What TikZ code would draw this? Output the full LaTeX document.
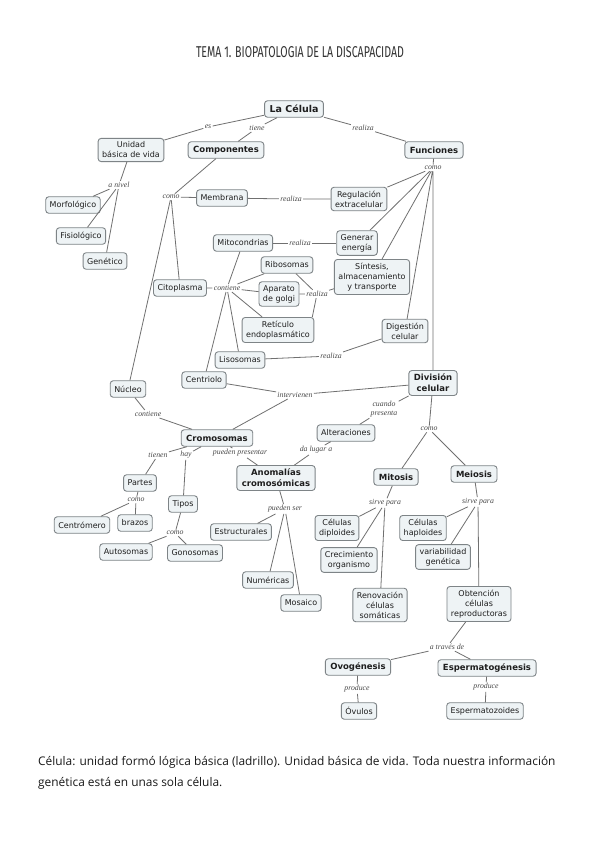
\documentclass[tikz,border=0pt]{standalone}
\usepackage{fontspec}
\usepackage{graphicx}
\newfontfamily\dejavu{DejaVu Sans}
\newfontfamily\lserif{Liberation Serif}
\newfontfamily\fira{Fira Sans}
\newfontfamily\osans{Open Sans}
\definecolor{boxfill}{HTML}{EEF3F5}
\definecolor{bordergray}{HTML}{7E8487}
\definecolor{linegray}{HTML}{707070}
\definecolor{linkgray}{HTML}{4A4A4A}
\definecolor{textdark}{HTML}{1E1E1E}
\tikzset{
  concept/.style={draw=bordergray, fill=boxfill, rounded corners=3pt, line width=0.9pt,
    align=center, inner xsep=4pt, inner ysep=3.5pt, minimum height=16.5pt,
    font=\dejavu\fontsize{8}{10}\selectfont, text=textdark},
  mainc/.style={concept, inner xsep=5pt, font=\dejavu\bfseries\fontsize{8.5}{11}\selectfont},
  lk/.style={font=\lserif\itshape\fontsize{7.8}{9.5}\selectfont, text=linkgray, inner sep=1.2pt, align=center},
  conn/.style={draw=linegray, line width=0.8pt},
}
\begin{document}
\begin{tikzpicture}[x=1pt,y=-1pt]
\useasboundingbox[fill=white] (0,0) rectangle (599,848);
% title
\node[text=black!80] (title) at (300,52) {\resizebox{208pt}{11pt}{\fira TEMA 1. BIOPATOLOGIA DE LA DISCAPACIDAD}};
% concepts
\node[mainc, font=\dejavu\bfseries\fontsize{9.5}{11}\selectfont] (cel) at (294,109) {La Célula};
\node[concept] (unid) at (131,150) {Unidad\\básica de vida};
\node[mainc] (comp) at (226,150) {Componentes};
\node[mainc] (func) at (434,150) {Funciones};
\node[concept] (morf) at (73,205) {Morfológico};
\node[concept] (fisi) at (81,236) {Fisiológico};
\node[concept] (gene) at (105,261) {Genético};
\node[concept] (memb) at (222,198) {Membrana};
\node[concept] (regu) at (359,199) {Regulación\\extracelular};
\node[concept] (mito) at (243,243) {Mitocondrias};
\node[concept] (gener) at (357,243) {Generar\\energía};
\node[concept] (ribo) at (287,265) {Ribosomas};
\node[concept] (sint) at (372,277) {Síntesis,\\almacenamiento\\y transporte};
\node[concept] (cito) at (180,288) {Citoplasma};
\node[concept] (golgi) at (279,294) {Aparato\\de golgi};
\node[concept] (reti) at (278,330) {Retículo\\endoplasmático};
\node[concept] (dige) at (405,331) {Digestión\\celular};
\node[concept] (liso) at (240,360) {Lisosomas};
\node[concept] (cent) at (204,380) {Centriolo};
\node[mainc] (divi) at (433,383) {División\\celular};
\node[concept] (nucl) at (128,389) {Núcleo};
\node[mainc] (crom) at (217,438) {Cromosomas};
\node[concept] (alte) at (346,433) {Alteraciones};
\node[mainc] (anom) at (276,478) {Anomalías\\cromosómicas};
\node[mainc] (mitos) at (396,477) {Mitosis};
\node[mainc] (meio) at (474,474) {Meiosis};
\node[concept] (part) at (140,483) {Partes};
\node[concept] (tipo) at (183,504) {Tipos};
\node[concept] (centr) at (82,525) {Centrómero};
\node[concept] (braz) at (135,523) {brazos};
\node[concept] (estr) at (241,532) {Estructurales};
\node[concept] (dipl) at (337,528) {Células\\diploides};
\node[concept] (hapl) at (423,528) {Células\\haploides};
\node[concept] (crec) at (349,560) {Crecimiento\\organismo};
\node[concept] (vari) at (443,557) {variabilidad\\genética};
\node[concept] (auto) at (126,552) {Autosomas};
\node[concept] (gono) at (195,553) {Gonosomas};
\node[concept] (nume) at (268,580) {Numéricas};
\node[concept] (mosa) at (301,603) {Mosaico};
\node[concept] (reno) at (380,605) {Renovación\\células\\somáticas};
\node[concept] (obte) at (479,604) {Obtención\\células\\reproductoras};
\node[mainc] (ovo) at (358,667) {Ovogénesis};
\node[mainc] (esp) at (487,668) {Espermatogénesis};
\node[concept] (ovu) at (359,711) {Óvulos};
\node[concept] (espz) at (485,711) {Espermatozoides};
% linking phrases
\node[lk] (l1) at (208,127) {es};
\node[lk] (l2) at (257,128) {tiene};
\node[lk] (l3) at (363,128) {realiza};
\node[lk] (l4) at (119,185) {a nivel};
\node[lk] (l5) at (171,197) {como};
\node[lk] (l6) at (291,199) {realiza};
\node[lk] (l7) at (433,168) {como};
\node[lk] (l8) at (300,243) {realiza};
\node[lk] (l9) at (227,288) {contiene};
\node[lk] (l10) at (317,294) {realiza};
\node[lk] (l11) at (331,356) {realiza};
\node[lk] (l12) at (295,395) {intervienen};
\node[lk] (l13) at (148,414) {contiene};
\node[lk] (l14) at (384,409) {cuando\\presenta};
\node[lk] (l15) at (429,429) {como};
\node[lk] (l16) at (316,450) {da lugar a};
\node[lk] (l17) at (158,455) {tienen};
\node[lk] (l18) at (186,455) {hay};
\node[lk] (l19) at (240,453) {pueden presentar};
\node[lk] (l20) at (136,500) {como};
\node[lk] (l21) at (175,533) {como};
\node[lk] (l22) at (285,509) {pueden ser};
\node[lk] (l23) at (385,503) {sirve para};
\node[lk] (l24) at (478,502) {sirve para};
\node[lk] (l25) at (447,647) {a través de};
\node[lk] (l26) at (357,689) {produce};
\node[lk] (l27) at (486,687) {produce};
% connectors
\draw[conn] (cel) -- (l1) (l1) -- (unid);
\draw[conn] (cel) -- (l2) (l2) -- (comp);
\draw[conn] (cel) -- (l3) (l3) -- (func);
\draw[conn] (unid) -- (l4) (l4) -- (morf) (l4) -- (fisi) (l4) -- (gene);
\draw[conn] (comp) -- (l5) (l5) -- (memb) (l5) -- (cito) (l5) -- (nucl);
\draw[conn] (memb) -- (l6) (l6) -- (regu);
\draw[conn] (func) -- (l7) (l7) -- (regu) (l7) -- (gener) (l7) -- (sint) (l7) -- (dige) (l7) -- (divi);
\draw[conn] (mito) -- (l8) (l8) -- (gener);
\draw[conn] (cito) -- (l9) (l9) -- (mito) (l9) -- (ribo) (l9) -- (golgi) (l9) -- (reti) (l9) -- (liso) (l9) -- (cent);
\draw[conn] (ribo) -- (l10) (golgi) -- (l10) (l10) -- ([xshift=-2pt]reti.north east) (l10) -- (sint);
\draw[conn] (liso) -- (l11) (l11) -- (dige);
\draw[conn] (cent) -- (l12) (divi) -- (l12) (l12) -- (crom);
\draw[conn] (nucl) -- (l13) (l13) -- (crom);
\draw[conn] (divi) -- (l14) (l14) -- (alte);
\draw[conn] (divi) -- (l15) (l15) -- (mitos) (l15) -- (meio);
\draw[conn] (alte) -- (l16) (l16) -- (anom);
\draw[conn] (crom) -- (l17) (l17) -- (part);
\draw[conn] (crom) -- (l18) (l18) -- (tipo);
\draw[conn] (crom) -- (l19) (l19) -- (anom);
\draw[conn] (part) -- (l20) (l20) -- (centr) (l20) -- (braz);
\draw[conn] (tipo) -- (l21) (l21) -- (auto) (l21) -- (gono);
\draw[conn] (anom) -- (l22) (l22) -- (estr) (l22) -- (nume) (l22) -- (mosa);
\draw[conn] (mitos) -- (l23) (l23) -- (dipl) (l23) -- (crec) (l23) -- (reno);
\draw[conn] (meio) -- (l24) (l24) -- (hapl) (l24) -- (vari) (l24) -- (obte);
\draw[conn] (obte) -- (l25) (l25) -- (ovo) (l25) -- (esp);
\draw[conn] (ovo) -- (l26) (l26) -- (ovu);
\draw[conn] (esp) -- (l27) (l27) -- (espz);
% bottom text
\node[anchor=base west, inner sep=0pt, font=\osans\fontsize{11.9}{14}\selectfont, text=black!90] (txt1) at (38,765) {Célula: unidad formó lógica básica (ladrillo). Unidad básica de vida. Toda nuestra información};
\node[anchor=base west, inner sep=0pt, font=\osans\fontsize{11.9}{14}\selectfont, text=black!90] (txt2) at (38,786) {genética está en unas sola célula.};
\end{tikzpicture}
\end{document}
